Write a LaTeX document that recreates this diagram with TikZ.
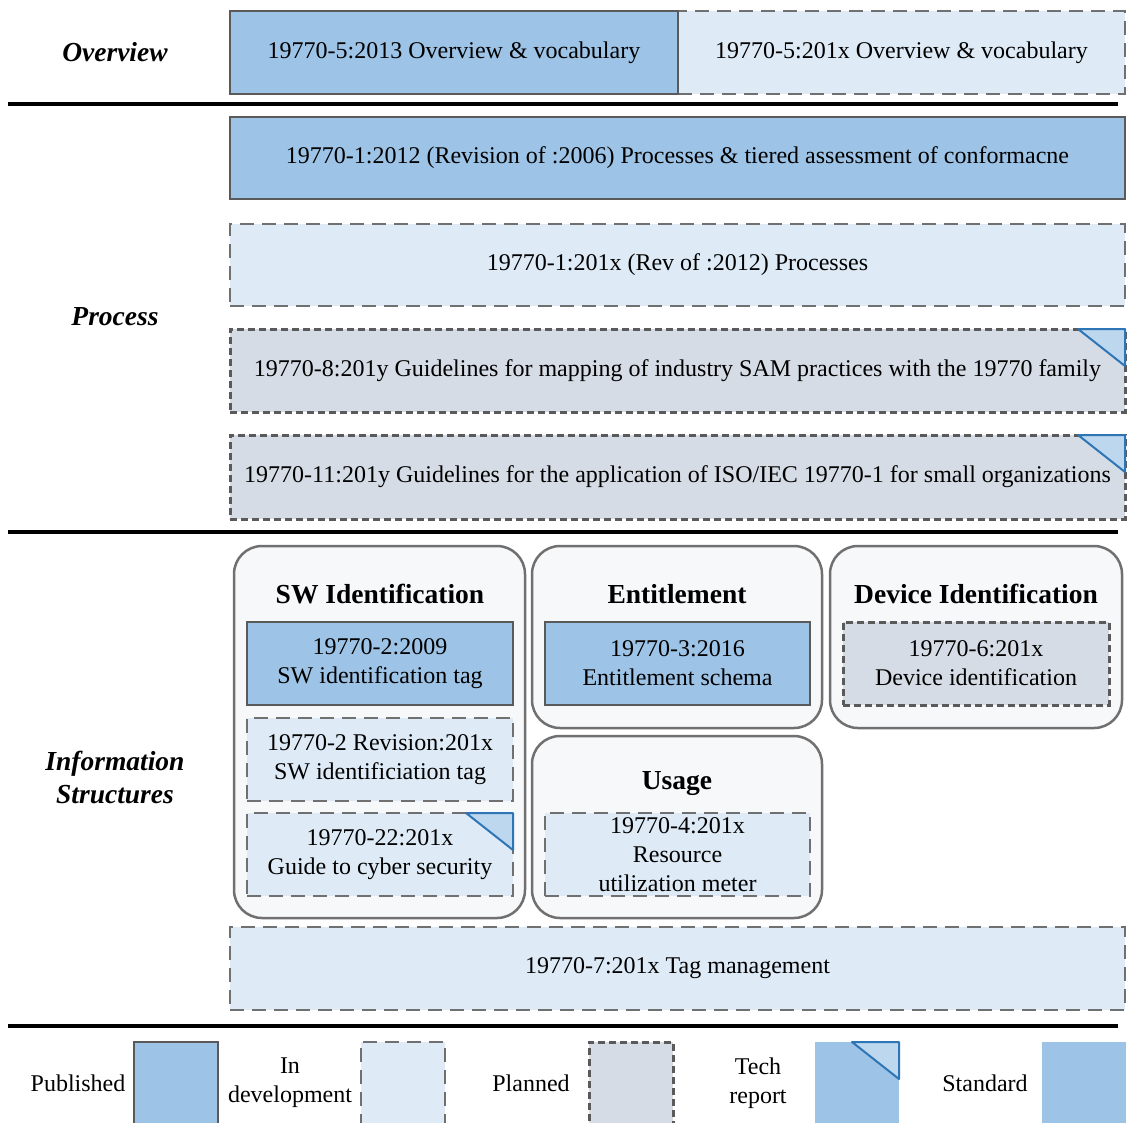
\documentclass[tikz,border=0pt]{standalone}
\usepackage{fontspec}
\setmainfont{Liberation Serif}
\usetikzlibrary{positioning}
\definecolor{pubblue}{HTML}{9DC3E6}
\definecolor{devblue}{HTML}{DEEBF7}
\definecolor{plangray}{HTML}{D6DCE5}
\definecolor{trifill}{HTML}{BDD7EE}
\definecolor{triedge}{HTML}{2E75B6}
\definecolor{edgegray}{HTML}{5A5A5A}
\definecolor{boxgray}{HTML}{707070}
\definecolor{groupfill}{HTML}{F7F8FA}
\newcommand{\techcorner}[1]{\filldraw[fill=trifill, draw=triedge, line width=2pt, line join=round] (#1.north east) -- ++(-47,0) -- ++(47,37) -- cycle;}

\begin{document}
\begin{tikzpicture}[x=1pt,y=-1pt,
  pub/.style={draw=edgegray, fill=pubblue, line width=2.8pt, outer sep=0pt, inner sep=0pt, align=center, font=\fontsize{24}{29}\selectfont},
  dev/.style={pub, draw=boxgray, fill=devblue, dash pattern=on 14pt off 8pt},
  plan/.style={pub, draw=edgegray, fill=plangray, dash pattern=on 7pt off 4pt, line width=3pt},
  group/.style={draw=boxgray, fill=groupfill, line width=2.5pt, rounded corners=28pt, outer sep=0pt},
  grouptitle/.style={font=\fontsize{27.5}{30}\selectfont\bfseries},
  seclabel/.style={font=\fontsize{27.5}{33}\selectfont\bfseries\itshape, align=center},
  legend/.style={font=\fontsize{24}{29}\selectfont, align=center},
  sepline/.style={line width=4pt, black}]
\useasboundingbox (0,0) rectangle (1127,1122);

% overview
\node[seclabel] (lbover) at (115,52) {Overview};
\node[dev, minimum width=447, minimum height=83] (ov1x) at (901.5,52.5) {19770-5:201x Overview \& vocabulary};
\node[pub, minimum width=448, minimum height=83, left=0pt of ov1x] (ov13) {19770-5:2013 Overview \& vocabulary};
\draw[sepline] (8,104) -- (1118,104);

% process
\node[seclabel] (lbproc) at (115,317) {Process};
\node[pub, minimum width=895, minimum height=82] (p12) at (677.5,158) {19770-1:2012 (Revision of :2006) Processes \& tiered assessment of conformacne};
\node[dev, minimum width=895, minimum height=82, below=25pt of p12] (p1x) {19770-1:201x (Rev of :2012) Processes};
\node[plan, minimum width=895, minimum height=83, below=23pt of p1x] (p8) {19770-8:201y Guidelines for mapping of industry SAM practices with the 19770 family};
\node[plan, minimum width=895, minimum height=84, below=23pt of p8] (p11) {19770-11:201y Guidelines for the application of ISO/IEC 19770-1 for small organizations};
\techcorner{p8}
\techcorner{p11}
\draw[sepline] (8,532) -- (1118,532);

% information structures
\node[seclabel] (lbinfo) at (115,777) {Information\\Structures};
\node[group, minimum width=291, minimum height=372] (gsw) at (379.5,732) {};
\node[group, minimum width=290, minimum height=182] (gent) at (677,637) {};
\node[group, minimum width=292, minimum height=182] (gdev) at (976,637) {};
\node[group, minimum width=290, minimum height=182] (guse) at (677,827) {};
\node[grouptitle] (tsw) at (380,594) {SW Identification};
\node[grouptitle] (tent) at (677,594) {Entitlement};
\node[grouptitle] (tdev) at (976,594) {Device Identification};
\node[grouptitle] (tuse) at (677,784) {Usage};
\node[pub, minimum width=266, minimum height=83] (sw09) at (380,663.5) {19770-2:2009\\SW identification tag};
\node[dev, minimum width=266, minimum height=83] (sw1x) at (380,759.5) {19770-2 Revision:201x\\SW identificiation tag};
\node[dev, minimum width=266, minimum height=83] (sw22) at (380,854.5) {19770-22:201x\\Guide to cyber security};
\techcorner{sw22}
\node[pub, minimum width=265, minimum height=83] (ent16) at (677.5,663.5) {19770-3:2016\\Entitlement schema};
\node[plan, minimum width=266, minimum height=83] (dev6) at (976,663.5) {19770-6:201x\\Device identification};
\node[dev, minimum width=265, minimum height=83] (use4) at (677.5,854.5) {19770-4:201x\\Resource\\utilization meter};
\node[dev, minimum width=895, minimum height=83] (tag7) at (677.5,968.5) {19770-7:201x Tag management};
\draw[sepline] (8,1026) -- (1118,1026);

% legend
\node[legend] (lpub) at (78,1083) {Published};
\node[pub, minimum width=84, minimum height=90] (kpub) at (176,1087) {};
\node[legend] (ldev) at (290,1083) {In\\development};
\node[dev, minimum width=84, minimum height=90] (kdev) at (403,1087) {};
\node[legend] (lplan) at (531,1083) {Planned};
\node[plan, minimum width=84, minimum height=90] (kplan) at (631,1087) {};
\node[legend] (ltech) at (758,1083) {Tech\\report};
\node[fill=pubblue, outer sep=0pt, minimum width=84, minimum height=90] (ktech) at (857,1087) {};
\techcorner{ktech}
\node[legend] (lstd) at (985,1083) {Standard};
\node[fill=pubblue, outer sep=0pt, minimum width=84, minimum height=90] (kstd) at (1083.5,1087) {};
\end{tikzpicture}
\end{document}
